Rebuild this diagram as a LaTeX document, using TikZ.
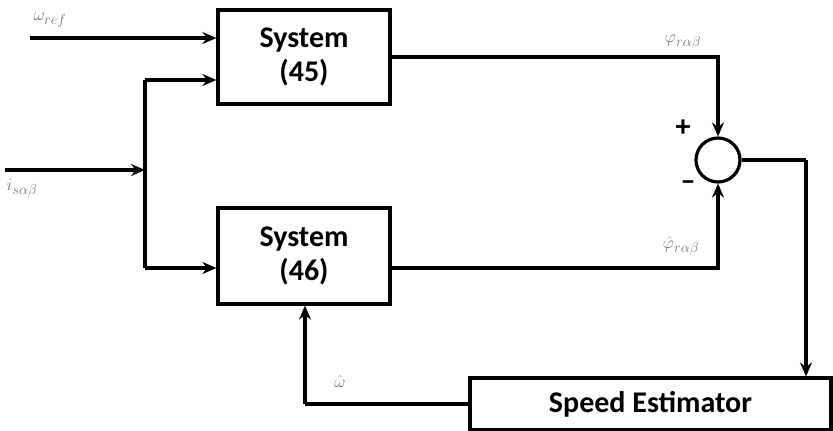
\documentclass[tikz,border=0pt]{standalone}
\usepackage{fontspec}
\setmainfont{Carlito}
\usetikzlibrary{arrows.meta}
\begin{document}
\begin{tikzpicture}[x=1pt,y=-1pt,
  blk/.style={draw,line width=3.2pt,inner sep=0pt,font=\bfseries\fontsize{30}{34}\selectfont,align=center},
  conn/.style={line width=3.2pt,-{Stealth[length=14pt,width=12pt]}},
  wire/.style={line width=3.2pt},
  lbl/.style={text=black!55,font=\fontsize{19}{21}\selectfont,inner sep=0pt}]
\useasboundingbox (0,0) rectangle (833,431);
\node[blk,minimum width=172pt,minimum height=94pt] (s45) at (304,57) {System\\(45)};
\node[blk,minimum width=172pt,minimum height=96pt] (s46) at (304,256) {System\\(46)};
\node[draw,line width=3.2pt,circle,minimum size=44pt,inner sep=0pt] (sum) at (718,160) {};
\node[blk,minimum width=361pt,minimum height=52pt] (se) at (650.5,404) {Speed Estimator};
% inputs
\coordinate (w0) at (30,38);
\draw[conn] (w0) -- (w0 -| s45.west);
\node[lbl] (wl) at (50,20) {$\omega_{ref}$};
\coordinate (i0) at (5,170);
\coordinate (j) at (145,170);
\draw[conn] (i0) -- (j);
\node[lbl] (il) at (22,188) {$i_{s\alpha\beta}$};
\coordinate (ja) at (145,80);
\coordinate (jb) at (145,268);
\draw[wire] (ja) -- (jb);
\draw[conn] (ja) -- (ja -| s45.west);
\draw[conn] (jb) -- (jb -| s46.west);
% outputs
\coordinate (p1) at (390,57);
\draw[conn] (p1) -| (sum.north);
\node[lbl] (pl) at (683,42) {$\varphi_{r\alpha\beta}$};
\coordinate (p2) at (390,268);
\draw[conn] (p2) -| (sum.south);
\node[lbl] (phl) at (681,246) {$\hat{\varphi}_{r\alpha\beta}$};
\node[font=\bfseries\fontsize{30}{30}\selectfont,inner sep=0pt] (plus) at (683,128) {+};
\node[font=\bfseries\fontsize{30}{30}\selectfont,inner sep=0pt] (minus) at (688,186) {--};
\coordinate (o1) at (806,160);
\draw[wire] (sum.east) -- (o1);
\draw[conn] (o1) -- (o1 |- se.north);
% feedback
\coordinate (fb) at (305,404);
\draw[wire] (se.west) -- (fb);
\draw[conn] (fb) -- (fb |- s46.south);
\node[lbl] (wh) at (340,381) {$\hat{\omega}$};
\end{tikzpicture}
\end{document}
